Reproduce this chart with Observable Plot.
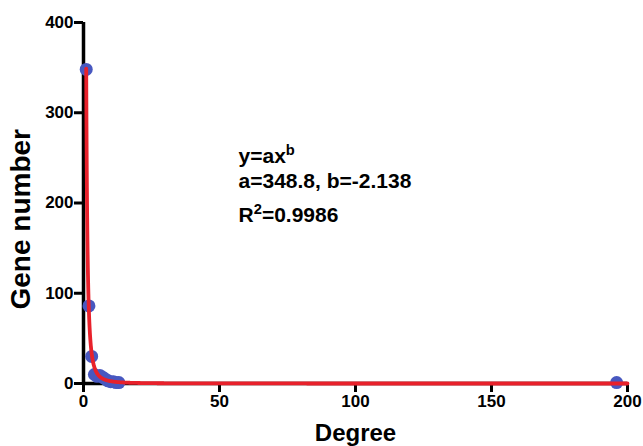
<!DOCTYPE html>
<html>
<head>
<meta charset="utf-8">
<script src="https://cdn.jsdelivr.net/npm/d3@7"></script>
<script src="https://cdn.jsdelivr.net/npm/@observablehq/plot@0.6"></script>
<style>
  html, body { margin: 0; padding: 0; background: #fff; }
  #chart svg { display: block; }
</style>
</head>
<body>
<div id="chart"></div>
<script>
// Observed data: number of genes per degree
const degrees = [1, 2, 3, 4, 5, 6, 7, 8, 9, 10, 11, 12, 13, 196];
const geneCounts = [348, 86, 30, 10, 8, 9, 7, 5, 3, 2, 2, 1, 1, 1];

// Fitted power law y = a * x^b (parameters shown on the chart)
const fitA = 348.8;
const fitB = -2.138;
const fitR2 = 0.9986;

const xTicks = [0, 50, 100, 150, 200];
const yTicks = [0, 100, 200, 300, 400];
const annotationLines = ["y=ax^b", `a=${fitA}, b=${fitB}`, `R^2=${fitR2}`];

const points = degrees.map((d, i) => ({degree: d, count: geneCounts[i]}));
const fitXs = d3.range(1, 200.001, 0.05);
const fit = fitXs.map(x => ({degree: x, count: fitA * Math.pow(x, fitB)}));

const blue = "#4858c0";
const red = "#e8212b";

const W = 643, H = 446, mL = 83, mR = 16, mT = 22, mB = 63;
const xPerPx = 200 / (W - mL - mR);
const yPerPx = 400 / (H - mT - mB);
const tickLen = 9;

const plot = Plot.plot({
  width: W,
  height: H,
  marginLeft: mL,
  marginRight: mR,
  marginTop: mT,
  marginBottom: mB,
  style: {fontFamily: "'Liberation Sans', Arial, sans-serif", fontWeight: "bold", fontSize: "17px", color: "#000", background: "#fff"},
  x: {domain: [0, 200]},
  y: {domain: [0, 400]},
  marks: [
    Plot.axisX({ticks: xTicks, tickSize: 8, tickPadding: 3, label: null, fontSize: 17, fontWeight: "bold"}),
    Plot.axisY({ticks: yTicks, tickSize: 9, tickPadding: 1, label: null, fontSize: 17, fontWeight: "bold"}),
    // heavy tick marks
    Plot.ruleX(xTicks, {x: d => d, y1: 0, y2: -tickLen * yPerPx, strokeWidth: 3, stroke: "#000"}),
    Plot.ruleY(yTicks, {y: d => d, x1: 0, x2: -tickLen * xPerPx, strokeWidth: 3, stroke: "#000"}),
    Plot.ruleY([0], {strokeWidth: 3.5, stroke: "#000"}),
    Plot.ruleX([0], {y1: 0, y2: 400, strokeWidth: 3.5, stroke: "#000"}),
    Plot.dot(points, {x: "degree", y: "count", r: 6.5, fill: blue, stroke: null}),
    Plot.line(fit, {x: "degree", y: "count", stroke: red, strokeWidth: 3.8}),
    Plot.text(["Degree"], {frameAnchor: "bottom", dy: 50, fontSize: 24, fontWeight: "bold", lineAnchor: "middle"}),
    Plot.text(["Gene number"], {x: -23, y: 182, rotate: -90, fontSize: 28, fontWeight: "bold", lineAnchor: "middle"}),
    Plot.text(annotationLines, {x: 57, y: (d, i) => [252, 223.6, 186][i], text: d => d, textAnchor: "start", lineAnchor: "middle", fontSize: 21, fontWeight: "bold"})
  ]
});

// superscripts: the single character after "^"
d3.select(plot).selectAll("text").each(function() {
  const t = this.textContent;
  const k = t.indexOf("^");
  if (k >= 0) {
    const sel = d3.select(this);
    sel.text(null);
    sel.append("tspan").text(t.slice(0, k));
    sel.append("tspan").attr("baseline-shift", "super").attr("font-size", "70%").text(t.charAt(k + 1));
    sel.append("tspan").text(t.slice(k + 2));
  }
});

document.getElementById("chart").appendChild(plot);
</script>
</body>
</html>
